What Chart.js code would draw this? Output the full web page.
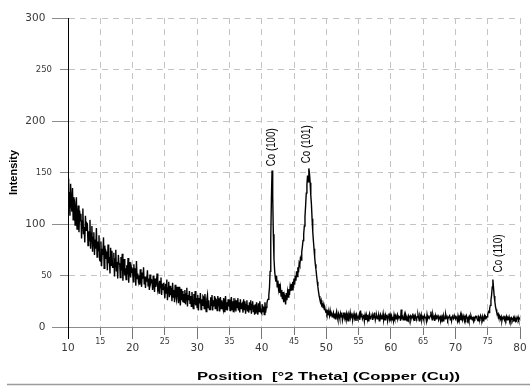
<!DOCTYPE html>
<html>
<head>
<meta charset="utf-8">
<script src="https://cdn.jsdelivr.net/npm/chart.js@4.4.0/dist/chart.umd.min.js"></script>
<style>
  html, body { margin: 0; padding: 0; background: #fff; }
  canvas { display: block; }
</style>
</head>
<body>
<canvas id="xrd" width="530" height="387"></canvas>
<script>
// scan: 10 to 80 deg 2theta, 0.1 deg step
const startAngle = 10
const angleStep = 0.1
const intensity = [
  144,118,131,108,139,121,112,135,104,126,
  122,99,114,126,95,108,118,92,113,103,
  110,86,103,115,90,97,82,108,94,101,
  100,79,93,84,104,76,91,98,73,87,
  92,70,85,76,96,68,83,74,89,65,
  64,83,59,76,70,87,57,79,66,73,
  71,55,80,62,68,52,77,60,74,58,
  58,72,49,66,75,54,63,47,70,61,
  62,48,68,55,71,45,59,66,50,57,
  46,60,51,67,43,56,63,48,58,54,
  55,44,61,49,57,40,64,47,52,45,
  50,41,56,45,39,53,47,58,42,49,
  38,49,44,55,40,47,36,51,43,46,
  45,36,50,41,34,47,39,44,52,37,
  40,33,45,38,48,31,42,36,43,35,
  28,42,33,46,26,38,44,29,40,31,
  38,25,43,29,36,24,41,31,27,39,
  34,23,39,28,21,37,26,35,24,32,
  24,36,22,32,38,20,31,26,35,23,
  30,20,34,24,18,32,22,35,21,28,
  19,31,16,28,23,33,17,27,21,30,
  29,18,32,22,15,27,31,19,26,17,
  17,29,21,31,16,26,20,30,18,27,
  26,16,30,20,28,15,29,18,26,21,
  18,28,15,25,30,17,24,16,27,20,
  27,16,24,29,17,25,15,28,19,23,
  15,26,19,28,16,24,14,27,18,22,
  23,14,27,17,25,13,22,26,15,21,
  14,24,17,26,13,22,25,15,21,12,
  22,13,24,16,12,23,15,25,17,14,
  13,22,15,20,12,24,14,19,23,26,
  27,31,38,54,85,124,152,128,90,66,
  55,48,44,50,39,45,37,42,33,38,
  30,36,27,34,24,31,28,22,33,26,
  34,29,37,31,39,35,42,36,44,40,
  47,41,50,45,54,49,58,53,62,60,
  67,65,73,78,84,90,98,107,118,130,
  138,147,141,154,149,140,128,119,105,93,
  84,76,68,61,56,50,44,39,34,30,
  27,24,26,21,22,19,20,17,18,15,
  16,13,15,12,14,11,16,12,13,10,
  12,14,9,13,8,12,15,10,7,13,
  11,8,13,10,14,7,11,14,9,12,
  10,13,8,11,6,12,10,14,9,11,
  12,7,10,13,9,11,6,12,10,8,
  9,12,7,16,10,13,8,10,12,6,
  11,7,12,9,10,6,11,13,8,10,
  10,12,7,11,9,14,7,10,11,8,
  9,12,6,10,12,8,10,9,13,7,
  10,7,11,9,12,6,10,13,8,12,
  9,11,7,10,6,12,9,11,8,10,
  12,8,10,9,11,6,17,9,10,7,
  9,12,7,12,10,6,9,11,8,10,
  11,7,10,9,13,8,10,6,11,9,
  8,10,12,9,6,11,9,12,7,10,
  10,7,11,9,10,6,12,8,10,9,
  9,11,15,10,7,12,9,10,6,11,
  8,10,9,12,7,9,11,6,10,8,
  10,6,11,9,8,12,9,10,7,9,
  9,11,7,10,6,10,12,8,9,10,
  8,10,9,6,11,8,10,9,12,7,
  10,7,11,9,6,10,8,11,9,7,
  9,6,10,8,11,9,7,10,6,9,
  8,10,9,11,7,6,10,9,8,11,
  9,7,10,6,9,11,8,10,9,10,
  12,15,14,18,21,26,31,39,46,38,
  30,25,20,17,14,12,13,10,11,9,
  8,10,6,9,8,11,7,9,7,10,
  7,9,8,10,6,8,6,9,8,7,
  9,6,8,6,9,7,8,10,7,8,
  9
]

// peak labels: name, 2theta of label, intensity where the text starts
const peakNames = ['Co (100)', 'Co (101)', 'Co (110)']
const peakLabelPos = [41.55, 47.0, 76.65]
const peakLabelBase = [156, 159, 53]

const xTitle = 'Position  [\u00b02 Theta] (Copper (Cu))'
const yTitle = 'Intensity'

const points = intensity.map((v, i) => ({ x: +(startAngle + i * angleStep).toFixed(1), y: v }))

const tickFont = 'DejaVu Sans'
const gridGrey = '#c4c4c4'

const extraText = {
  id: 'extraText',
  afterDatasetsDraw(chart) {
    const { ctx, scales: { x, y } } = chart
    ctx.save()
    ctx.fillStyle = '#000'
    ctx.font = '13px "Liberation Sans", Arial, sans-serif'
    ctx.textAlign = 'left'
    ctx.textBaseline = 'middle'
    peakNames.forEach((name, i) => {
      ctx.save()
      ctx.translate(x.getPixelForValue(peakLabelPos[i]), y.getPixelForValue(peakLabelBase[i]))
      ctx.rotate(-Math.PI / 2)
      // narrow the text along its length
      ctx.scale(38 / ctx.measureText(name).width, 1)
      ctx.fillText(name, 0, 0)
      ctx.restore()
    })

    // x axis title, stretched a little like the original
    ctx.font = 'bold 11px "Liberation Sans", Arial, sans-serif'
    ctx.textBaseline = 'alphabetic'
    const w = ctx.measureText(xTitle).width
    ctx.save()
    ctx.translate(197, 379.5)
    ctx.scale(263 / w, 1)
    ctx.fillText(xTitle, 0, 0)
    ctx.restore()

    // rule along the bottom
    ctx.strokeStyle = '#9a9a9a'
    ctx.lineWidth = 1.5
    ctx.beginPath()
    ctx.moveTo(7, 384.5)
    ctx.lineTo(530, 384.5)
    ctx.stroke()
    ctx.restore()
  }
}

new Chart(document.getElementById('xrd'), {
  type: 'line',
  data: {
    datasets: [{
      data: points,
      borderColor: '#000',
      borderWidth: 1.4,
      pointRadius: 0,
      fill: false,
      tension: 0
    }]
  },
  options: {
    responsive: false,
    animation: false,
    layout: { padding: { left: 0, right: 10, top: 18, bottom: 0 } },
    plugins: {
      legend: { display: false },
      tooltip: { enabled: false }
    },
    scales: {
      x: {
        type: 'linear',
        min: 10,
        max: 80,
        afterFit: (s) => { s.height = 60 },
        ticks: {
          stepSize: 5,
          padding: 0,
          maxRotation: 0,
          autoSkip: false,
          color: '#3a3a3a',
          font: (c) => (c.tick && c.tick.value % 10 === 0)
            ? { family: tickFont, size: 10.5, lineHeight: 1.71 }
            : { family: tickFont, size: 8, lineHeight: 0.75 },
          callback: (v) => String(v)
        },
        grid: {
          color: gridGrey,
          lineWidth: 1,
          tickLength: 12,
          tickWidth: 1,
          tickColor: (c) => (c.tick && c.tick.value === 10) ? '#000' : '#777',
          tickBorderDash: (c) => (c.tick && c.tick.value % 10 !== 0) ? [7, 40] : []
        },
        border: { display: true, color: '#8c8c8c', width: 1, dash: [6, 5] }
      },
      y: {
        min: 0,
        max: 300,
        afterFit: (s) => { s.width = 68 },
        ticks: {
          stepSize: 50,
          padding: 0,
          color: '#3a3a3a',
          font: (c) => (c.tick && c.tick.value % 100 === 0)
            ? { family: tickFont, size: 10.5 }
            : { family: tickFont, size: 8.5 },
          callback: (v) => v % 100 === 0 ? v + '  ' : String(v)
        },
        grid: {
          color: gridGrey,
          lineWidth: 1,
          tickLength: 16,
          tickWidth: 1,
          tickColor: '#8c8c8c',
          tickBorderDash: (c) => (c.tick && c.tick.value % 100 !== 0) ? [0, 8, 8, 40] : []
        },
        border: { display: true, color: '#000', width: 1, dash: [6, 5] },
        title: {
          display: true,
          text: yTitle,
          color: '#000',
          font: { family: 'Liberation Sans', size: 11, weight: 'bold' },
          padding: { top: 7, bottom: 0 }
        }
      }
    }
  },
  plugins: [extraText]
})
</script>
</body>
</html>
